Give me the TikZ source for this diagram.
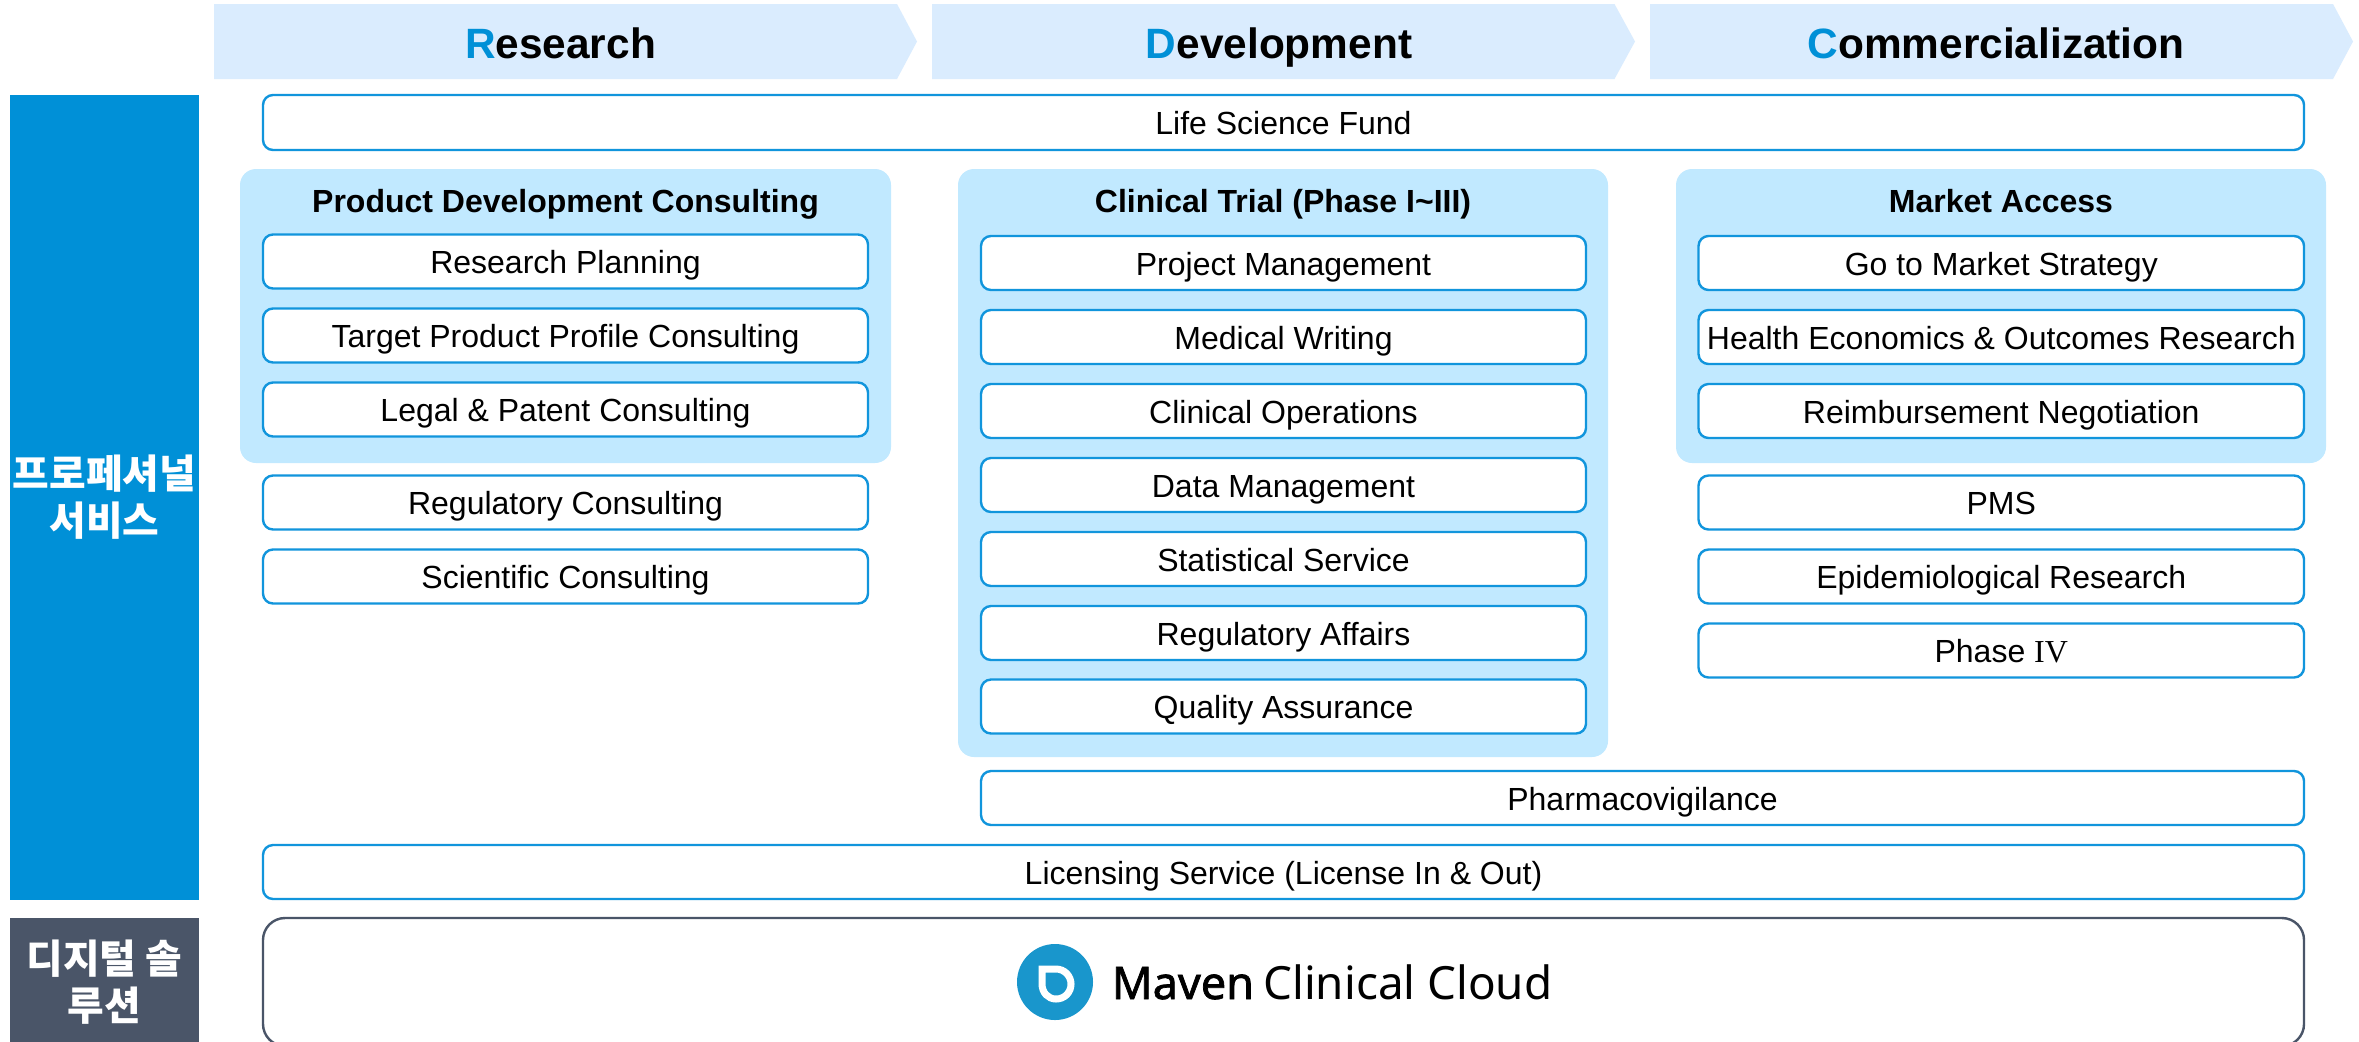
\documentclass[tikz,border=0pt]{standalone}
\usepackage{fontspec}
\setmainfont{Liberation Sans}
\newfontfamily\krfont{Noto Sans CJK KR}
\newfontfamily\logofont{Noto Sans}
\newfontfamily\logoboldfont[FakeBold=1.6]{Noto Sans}
\newfontfamily\romanfont{Liberation Serif}
\definecolor{mainblue}{HTML}{0090D7}
\definecolor{linkblue}{HTML}{1195DC}
\definecolor{headfill}{HTML}{DAECFE}
\definecolor{panelfill}{HTML}{C1E9FF}
\definecolor{slate}{HTML}{4A5568}
\definecolor{logoblue}{HTML}{1996CC}
\tikzset{
  itembox/.style={draw=linkblue,line width=1.2pt,fill=white,rounded corners=5pt,inner sep=0pt,
    text height=15pt,text depth=3pt,font=\fontsize{16}{18}\selectfont,align=center},
  panelbox/.style={fill=panelfill,rounded corners=8pt,inner sep=0pt},
  paneltitle/.style={font=\fontsize{16}{18}\bfseries\selectfont,anchor=base,inner sep=0pt},
  headfillstyle/.style={fill=headfill,draw=none},
  headtext/.style={font=\fontsize{21.2}{24}\bfseries\selectfont,anchor=center,inner sep=0pt,text height=15pt,text depth=0pt},
  sidebox/.style={inner sep=0pt,text=white,align=center,font=\krfont\fontsize{19.9}{23.5}\bfseries\selectfont},
}
\newcommand{\bx}[6][itembox]{%
  \pgfmathsetmacro{\cxx}{(#3+#5)/2}\pgfmathsetmacro{\cyy}{(#4+#6)/2}%
  \pgfmathsetmacro{\wdd}{(#5-#3)*0.5}\pgfmathsetmacro{\htt}{(#6-#4)*0.5}%
  \node[#1,minimum width=\wdd pt,minimum height=\htt pt] (#2) at (\cxx,\cyy)}
\begin{document}
\begin{tikzpicture}[x=0.5pt,y=-0.5pt]
\useasboundingbox (0,0) rectangle (2359,1041);
\clip (0,0) rectangle (2359,1041);
\fill[white] (0,0) rectangle (2359,1041);
% header arrows
\fill[headfillstyle] (214,4) -- (897,4) -- (917,41.5) -- (897,79) -- (214,79) -- cycle;
\fill[headfillstyle] (932,4) -- (1614.5,4) -- (1635,41.5) -- (1614.5,79) -- (932,79) -- cycle;
\fill[headfillstyle] (1650,4) -- (2333,4) -- (2353,41.5) -- (2333,79) -- (1650,79) -- cycle;
\node[headtext] (hr) at (560.5,43) {\textcolor{mainblue}{R}esearch};
\node[headtext] (hd) at (1279,43) {\textcolor{mainblue}{D}evelopment};
\node[headtext] (hc) at (1996,43) {\textcolor{mainblue}{C}ommercialization};
% side boxes
\bx[sidebox,fill=mainblue]{sideA}{10}{95}{199}{900}{프로페셔널\\서비스};
\bx[sidebox,fill=slate]{sideB}{10}{918}{199}{1047}{디지털 솔\\루션};
% top and bottom rows
\bx{life}{263}{95}{2304}{150}{Life Science Fund};
% panels
\bx[panelbox]{panelA}{240}{169}{891}{463}{};
\bx[panelbox]{panelB}{958}{169}{1608}{757}{};
\bx[panelbox]{panelC}{1676}{169}{2326}{463}{};
\node[paneltitle] (titleA) at (565.5,212) {Product Development Consulting};
\node[paneltitle] (titleB) at (1283,212) {Clinical Trial (Phase I\textasciitilde III)};
\node[paneltitle] (titleC) at (2001,212) {Market Access};
% column A
\bx{a1}{263}{234.5}{868}{288.5}{Research Planning};
\bx{a2}{263}{308.5}{868}{362.5}{Target Product Profile Consulting};
\bx{a3}{263}{382.5}{868}{436.5}{Legal \& Patent Consulting};
\bx{a4}{263}{475.5}{868}{529.5}{Regulatory Consulting};
\bx{a5}{263}{549.5}{868}{603.5}{Scientific Consulting};
% column B
\bx{b1}{981}{236}{1586}{290}{Project Management};
\bx{b2}{981}{310}{1586}{364}{Medical Writing};
\bx{b3}{981}{384}{1586}{438}{Clinical Operations};
\bx{b4}{981}{458}{1586}{512}{Data Management};
\bx{b5}{981}{532}{1586}{586}{Statistical Service};
\bx{b6}{981}{606}{1586}{660}{Regulatory Affairs};
\bx{b7}{981}{679.5}{1586}{733.5}{Quality Assurance};
% column C
\bx{c1}{1698.5}{236}{2304}{290}{Go to Market Strategy};
\bx{c2}{1698.5}{310}{2304}{364}{Health Economics \& Outcomes Research};
\bx{c3}{1698.5}{384}{2304}{438}{Reimbursement Negotiation};
\bx{c4}{1698.5}{475.5}{2304}{529.5}{PMS};
\bx{c5}{1698.5}{549.5}{2304}{603.5}{Epidemiological Research};
\bx{c6}{1698.5}{623.5}{2304}{677.5}{Phase {\romanfont IV}};
% wide rows
\bx{pv}{981}{771}{2304}{825}{Pharmacovigilance};
\bx{lic}{263}{845}{2304}{899}{Licensing Service (License In \& Out)};
\node[draw=slate,line width=1.2pt,fill=white,rounded corners=11pt,inner sep=0pt,minimum width=1020.5pt,minimum height=64pt] (maven) at (1283.5,982) {};
% logo
\fill[logoblue] (1055,982) circle[radius=38];
\draw[white,line width=3.5pt,line join=miter] (1042,969) -- (1056,969) .. controls (1064.5,969) and (1071,976) .. (1071,984) .. controls (1071,992.5) and (1064.5,999) .. (1056,999) .. controls (1048,999) and (1042,992.5) .. (1042,984) -- cycle;
\node[anchor=base west,inner sep=0pt,font=\logoboldfont\fontsize{22.5}{24}\selectfont] (mvn) at (1111.5,999) {Maven};
\node[anchor=base west,inner sep=0pt,font=\logofont\fontsize{22.9}{24}\selectfont] (mvc) at (1263,999) {Clinical Cloud};
\end{tikzpicture}
\end{document}
